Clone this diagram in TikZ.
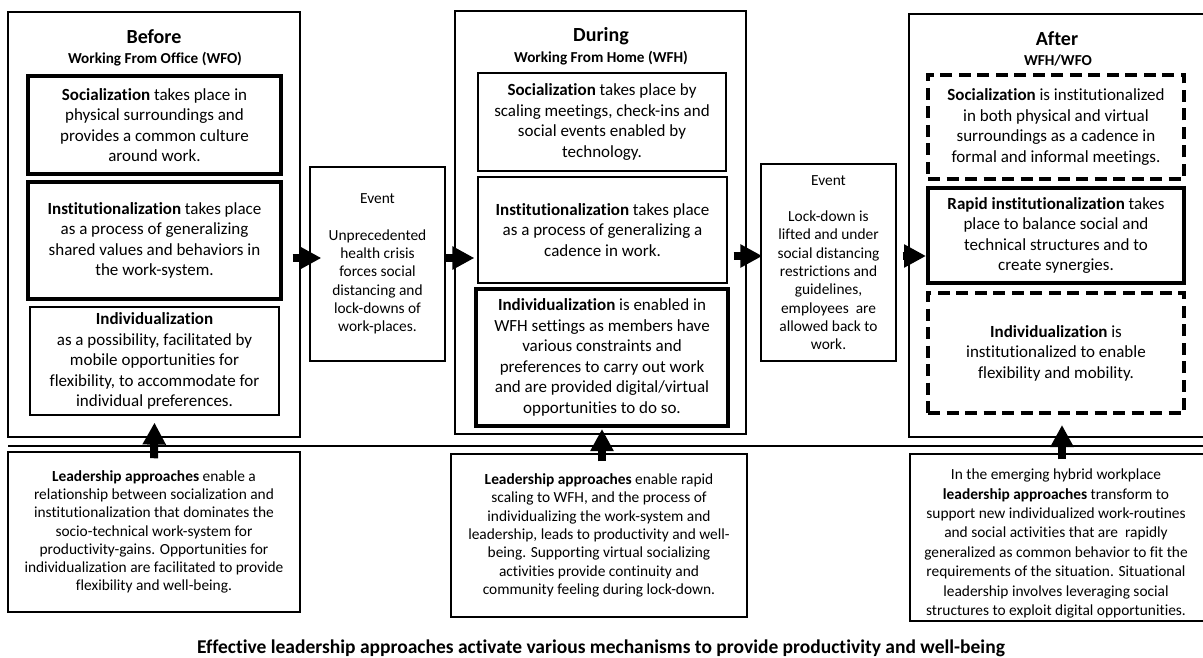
\documentclass[tikz,border=0pt]{standalone}
\usepackage{fontspec}
\setmainfont[Ligatures=CommonOff]{Carlito}
\usetikzlibrary{arrows.meta}

\begin{document}
\begin{tikzpicture}[x=1pt,y=-1pt,every node/.style={shape=rectangle,align=center,inner sep=0pt},
    frame/.style={draw,line width=1.3pt},
    head/.style={font=\fontsize{20}{24}\selectfont\bfseries},
    sub/.style={font=\fontsize{15.2}{18}\selectfont\bfseries},
    thinbox/.style={draw,line width=1.2pt,font=\fontsize{17}{20.5}\selectfont},
    thickbox/.style={draw,line width=4pt,font=\fontsize{17}{20.5}\selectfont},
    dashbox/.style={thickbox,dash pattern=on 12pt off 6.5pt},
    event/.style={draw,line width=1.3pt,minimum width=135pt,font=\fontsize{15.4}{18.3}\selectfont},
    lead/.style={draw,line width=1.5pt,font=\fontsize{15.4}{18.3}\selectfont},
    blk/.style={line width=8pt,-{Triangle[length=22pt,width=22pt]}}]
  \useasboundingbox (0,0) rectangle (1203,658);

  % before
  \node[frame,minimum width=292pt,minimum height=425pt] (bframe) at (154,224.5) {};
  \node[head] (bhead) at (154,37) {Before};
  \node[sub] (bsub) at (155,59) {Working From Office (WFO)};
  \node[thickbox,minimum width=253pt,minimum height=98pt] (bsoc) at (154.5,125)
    {\textbf{Socialization} takes place in\\physical surroundings and\\provides a common culture\\around work.};
  \node[thickbox,minimum width=253pt,minimum height=117pt] (binst) at (154.5,240.5)
    {\textbf{Institutionalization} takes place\\as a process of generalizing\\shared values and behaviors in\\the work-system.};
  \node[thinbox,minimum width=249pt,minimum height=108pt] (bind) at (154.5,361)
    {\textbf{Individualization}\\ as a possibility, facilitated by\\mobile opportunities for\\flexibility, to accommodate for\\individual preferences.};

  \node[event,minimum height=194pt] (ev1) at (377.5,264)
    {Event\\~\\Unprecedented\\health crisis\\forces social\\distancing and\\lock-downs of\\work-places.};

  % during
  \node[frame,minimum width=291pt,minimum height=423pt] (dframe) at (600.5,222.5) {};
  \node[head] (dhead) at (601,36) {During};
  \node[sub] (dsub) at (601,58) {Working From Home (WFH)};
  \node[thinbox,minimum width=248pt,minimum height=98pt] (dsoc) at (602,122)
    {\textbf{Socialization} takes place by\\scaling meetings, check-ins and\\social events enabled by\\technology.};
  \node[thinbox,minimum width=249pt,minimum height=106pt] (dinst) at (602.5,230)
    {\textbf{Institutionalization} takes place\\as a process of generalizing a\\cadence in work.};
  \node[thickbox,minimum width=252pt,minimum height=137pt] (dind) at (602,357.5)
    {\textbf{Individualization} is enabled in\\WFH settings as members have\\various constraints and\\preferences to carry out work\\and are provided digital/virtual\\opportunities to do so.};

  \node[event,minimum height=197pt] (ev2) at (828.5,262.5)
    {Event\\~\\Lock-down is\\lifted and under\\social distancing\\restrictions and\\guidelines,\\employees~ are\\allowed back to\\work.};

  % after
  \node[frame,minimum width=297pt,minimum height=423pt] (aframe) at (1057.5,225.5) {};
  \node[head] (ahead) at (1057,39) {After};
  \node[sub] (asub) at (1058,61) {WFH/WFO};
  \node[dashbox,minimum width=256pt,minimum height=104pt] (asoc) at (1056,127)
    {\textbf{Socialization} is institutionalized\\in both physical and virtual\\surroundings as a cadence in\\formal and informal meetings.};
  \node[thickbox,minimum width=256pt,minimum height=95pt] (arapid) at (1056,235.5)
    {\textbf{Rapid institutionalization} takes\\place to balance social and\\technical structures and to\\create synergies.};
  \node[dashbox,minimum width=256pt,minimum height=120pt] (aind) at (1056,353)
    {\textbf{Individualization} is\\institutionalized to enable\\flexibility and mobility.};

  % events in between
  \draw[blk] ([xshift=-8pt,yshift=6pt]ev1.west -| bframe.east) -- ([xshift=12pt,yshift=6pt]ev1.west);
  \draw[blk] ([yshift=6pt]ev1.east) -- ([xshift=-3pt,yshift=6pt]ev1.east -| dinst.west);
  \draw[blk] ([xshift=-13pt,yshift=6.5pt]ev2.west -| dframe.east) -- ([xshift=2pt,yshift=6.5pt]ev2.west);
  \draw[blk] ([xshift=6pt,yshift=6.5pt]ev2.east) -- ([yshift=6.5pt]ev2.east -| arapid.west);

  \draw[line width=1.3pt] (8,446) -- (1210,446);

  % leadership
  \node[lead,minimum width=292pt,minimum height=160pt] (lb1) at (154,532)
    {\textbf{Leadership approaches} enable a\\relationship between socialization and\\institutionalization that dominates the\\socio-technical work-system for\\productivity-gains. Opportunities for\\individualization are facilitated to provide\\flexibility and well-being.};
  \node[lead,minimum width=296pt,minimum height=163pt] (lb2) at (599,535.5)
    {\textbf{Leadership approaches} enable rapid\\scaling to WFH, and the process of\\individualizing the work-system and\\leadership, leads to productivity and well-\\being. Supporting virtual socializing\\activities provide continuity and\\community feeling during lock-down.};
  \node[lead,minimum width=298pt,minimum height=167pt] (lb3) at (1059,537.5) {};
  \node[font=\fontsize{15.4}{19.4}\selectfont] (lb3txt) at ([xshift=-3pt,yshift=-6pt]lb3.center)
    {In the emerging hybrid workplace\\\textbf{leadership approaches} transform to\\support new individualized work-routines\\and social activities that are~ rapidly\\generalized as common behavior to fit the\\requirements of the situation. Situational\\leadership involves leveraging social\\structures to exploit digital opportunities.};

  \draw[blk] ([yshift=-7pt]lb1.north) -- ([yshift=-7pt]bind.south);
  \draw[blk] ([yshift=-8pt]dind.south |- lb2.north) -- ([yshift=-1pt]dind.south);
  \draw[blk] ([xshift=3pt,yshift=-6pt]lb3.north) -- ([xshift=6pt,yshift=-10pt]aind.south);

  \node[font=\fontsize{19.5}{23}\selectfont\bfseries] (cap) at (601,648)
    {Effective leadership approaches activate various mechanisms to provide productivity and well-being};
\end{tikzpicture}
\end{document}
